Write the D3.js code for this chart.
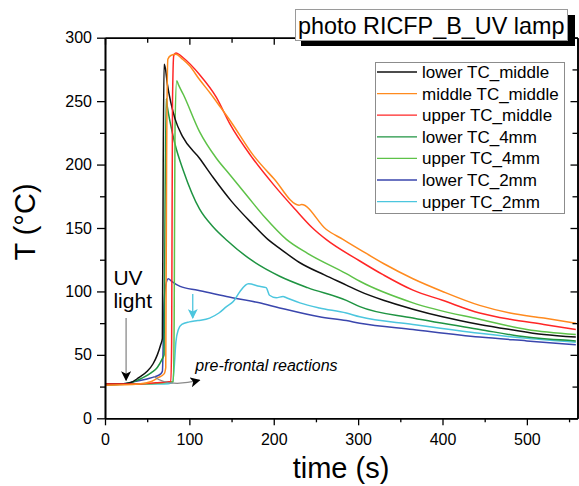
<!DOCTYPE html>
<html>
<head>
<meta charset="utf-8">
<script src="https://cdn.jsdelivr.net/npm/d3@7"></script>
<style>
  body { margin: 0; background: #fff; }
  svg { font-family: "Liberation Sans", Arial, sans-serif; }
</style>
</head>
<body>
<svg id="chart"></svg>
<script>
// values: [time (s), T (°C)]
let lowerMiddle = [[0,27],[20,27],[30,28],[40,32],[50,37],[57,43],[62,50],[66,58],[68,63],[69,200],[70,279],[71.5,276],[74,263],[78,249],[83,236],[92,222],[112,205],[128,190],[150,171],[175,153],[193,141],[207,134],[230,123],[260,113],[286,105],[302,100],[330,93],[365,86],[400,80],[444,74],[480,70],[520,66],[558,64]];
let middleMiddle = [[0,26],[40,27],[55,29],[63,32],[70,35],[72,40],[73,200],[74.5,283],[78,286],[84,287],[92,283],[100,278],[112,267],[125,256],[136,246],[150,233],[175,208],[200,189],[230,168],[233,168.5],[262,149],[282,141],[302,133],[330,122],[365,110],[400,100],[444,89],[480,83],[520,79],[558,75]];
let upperMiddle = [[0,27],[40,27],[60,28],[78,29],[79,60],[80,250],[81.5,286],[84,288],[93,284],[112,271],[132,253],[148,232],[175,205],[200,184],[225,165],[246,150],[262,141],[302,124],[330,113],[365,101],[400,93],[444,83],[480,78],[520,74],[558,70]];
let lower4mm = [[0,26],[30,28],[45,32],[55,36],[62,40],[68,47],[70,50],[71,150],[72.5,252],[74,245],[77,234],[83,216],[93,195],[112,165],[128,151],[145,140],[175,124],[207,112],[240,103],[286,93],[302,88],[365,79],[444,70],[500,64],[558,61]];
let upper4mm = [[0,27],[40,27],[70,28],[81,29],[82,80],[83,230],[85,266],[87,263],[93,255],[112,226],[132,205],[148,192],[170,174],[190,158],[215,141],[240,130],[286,114],[302,108],[365,91],[444,78],[500,70],[558,66]];
let lower2mm = [[0,27],[20,27],[35,29],[50,31],[60,33],[66,35],[68,37],[70,90],[72,105],[75,110],[79,108],[89,104],[110,101],[144,96],[183,91],[207,87],[254,80],[286,77],[302,75],[365,70],[444,64],[500,61],[558,58]];
let upper2mm = [[0,26],[40,27],[70,27],[80,28],[82,40],[84,60],[87,70],[91,74],[100,76],[110,77],[124,79],[135,83],[144,88],[152,92],[160,100],[170,106],[183,104],[191,103],[195,97],[203,95],[211,96],[215,95],[231,91],[254,87],[286,83],[302,80],[365,74],[444,67],[500,63],[558,60]];

let seriesNames = ["lower TC_middle", "middle TC_middle", "upper TC_middle", "lower TC_4mm", "upper TC_4mm", "lower TC_2mm", "upper TC_2mm"];
let seriesData = [lowerMiddle, middleMiddle, upperMiddle, lower4mm, upper4mm, lower2mm, upper2mm];
let seriesColors = ["#111111", "#ff8a1e", "#ff2626", "#1f9442", "#5ec248", "#3a46ad", "#4cc6de"];

let xMajor = [0, 100, 200, 300, 400, 500];
let xMinor = [50, 150, 250, 350, 450, 550];
let yMajor = [0, 50, 100, 150, 200, 250, 300];
let yMinor = [25, 75, 125, 175, 225, 275];

let width = 579, height = 486;
let svg = d3.select("#chart").attr("width", width).attr("height", height);

let x = d3.scaleLinear().domain([0, 560]).range([105, 577.5]);
let y = d3.scaleLinear().domain([0, 300]).range([418.3, 37.7]);

svg.append("clipPath").attr("id", "plot")
    .append("rect")
    .attr("x", x(0)).attr("y", y(300))
    .attr("width", x(560) - x(0)).attr("height", y(0) - y(300));

// lines
let line = d3.line()
    .x(d => x(d[0]))
    .y(d => y(d[1]))
    .curve(d3.curveMonotoneX);

let lines = svg.append("g").attr("clip-path", "url(#plot)");
// draw so that the overlaps look like the picture
[5, 6, 3, 4, 0, 2, 1].forEach(i => {
    lines.append("path")
        .attr("d", line(seriesData[i]))
        .attr("fill", "none")
        .attr("stroke", seriesColors[i])
        .attr("stroke-width", 1.5);
});

// axes
function styleAxis(g) {
    g.select(".domain").attr("stroke", "#000").attr("stroke-width", 1.6);
    g.selectAll(".tick line").attr("stroke", "#000").attr("stroke-width", 1.3);
    g.selectAll(".tick text").attr("fill", "#000").style("font-size", "16px");
}

svg.append("g").attr("transform", `translate(0,${y(0)})`)
    .call(d3.axisBottom(x).tickValues(xMinor).tickSize(4).tickSizeOuter(0).tickFormat(""))
    .call(styleAxis);
svg.append("g").attr("transform", `translate(0,${y(0)})`)
    .call(d3.axisBottom(x).tickValues(xMajor).tickSize(7).tickPadding(8).tickSizeOuter(0))
    .call(styleAxis);

svg.append("g").attr("transform", `translate(${x(0)},0)`)
    .call(d3.axisLeft(y).tickValues(yMinor).tickSize(5).tickSizeOuter(0).tickFormat(""))
    .call(styleAxis);
svg.append("g").attr("transform", `translate(${x(0)},0)`)
    .call(d3.axisLeft(y).tickValues(yMajor).tickSize(8).tickPadding(5).tickSizeOuter(0))
    .call(styleAxis);

svg.append("g").attr("transform", `translate(0,${y(300)})`)
    .call(d3.axisTop(x).tickValues(xMinor).tickSize(-5).tickSizeOuter(0).tickFormat(""))
    .call(styleAxis);
svg.append("g").attr("transform", `translate(0,${y(300)})`)
    .call(d3.axisTop(x).tickValues(xMajor).tickSize(-7).tickSizeOuter(0).tickFormat(""))
    .call(styleAxis);

svg.append("g").attr("transform", `translate(${x(560)},0)`)
    .call(d3.axisRight(y).tickValues(yMinor).tickSize(-5).tickSizeOuter(0).tickFormat(""))
    .call(styleAxis);
svg.append("g").attr("transform", `translate(${x(560)},0)`)
    .call(d3.axisRight(y).tickValues(yMajor).tickSize(-7).tickSizeOuter(0).tickFormat(""))
    .call(styleAxis);

// axis titles
svg.append("text")
    .attr("x", 341).attr("y", 478)
    .attr("text-anchor", "middle")
    .style("font-size", "29px")
    .text("time (s)");
svg.append("text")
    .attr("transform", "translate(35,222) rotate(-90)")
    .attr("text-anchor", "middle")
    .style("font-size", "29px")
    .text("T (°C)");

// arrow heads
let defs = svg.append("defs");
function marker(id, color) {
    defs.append("marker")
        .attr("id", id)
        .attr("viewBox", "0 0 10 10")
        .attr("refX", 9).attr("refY", 5)
        .attr("markerWidth", 10).attr("markerHeight", 10)
        .attr("markerUnits", "userSpaceOnUse")
        .attr("orient", "auto")
        .append("path")
        .attr("d", "M0,0 L10,5 L0,10 L2.5,5 Z")
        .attr("fill", color);
}
marker("headBlack", "#000");
marker("headCyan", "#4cc6de");

// UV light annotation
svg.append("text").attr("x", x(10)).attr("y", y(105))
    .style("font-size", "21px").text("UV");
svg.append("text").attr("x", x(10)).attr("y", y(87))
    .style("font-size", "21px").text("light");
svg.append("line")
    .attr("x1", x(25)).attr("y1", y(79))
    .attr("x2", x(25)).attr("y2", y(30))
    .attr("stroke", "#8a8a8a").attr("stroke-width", 1.3)
    .attr("marker-end", "url(#headBlack)");

// pre-frontal reactions
svg.append("path")
    .attr("d", `M${x(58)},${y(33)} Q${x(75)},${y(24)} ${x(112)},${y(30)}`)
    .attr("fill", "none")
    .attr("stroke", "#8a8a8a").attr("stroke-width", 1.3)
    .attr("marker-end", "url(#headBlack)");
svg.append("text").attr("x", x(107)).attr("y", y(37))
    .style("font-size", "16px").style("font-style", "italic")
    .text("pre-frontal reactions");

// cyan arrow
svg.append("line")
    .attr("x1", x(104)).attr("y1", y(98))
    .attr("x2", x(104)).attr("y2", y(79))
    .attr("stroke", "#4cc6de").attr("stroke-width", 1.3)
    .attr("marker-end", "url(#headCyan)");

// legend
let legend = svg.append("g");
legend.append("rect")
    .attr("x", 375.5).attr("y", 62.5)
    .attr("width", 189).attr("height", 151)
    .attr("fill", "#fff").attr("stroke", "#8c8c8c").attr("stroke-width", 1);
seriesNames.forEach((name, i) => {
    let ly = 72 + i * 21.6;
    legend.append("line")
        .attr("x1", 377).attr("x2", 417)
        .attr("y1", ly).attr("y2", ly)
        .attr("stroke", seriesColors[i]).attr("stroke-width", 1.3);
    legend.append("text")
        .attr("x", 422).attr("y", ly)
        .attr("dy", "0.35em")
        .style("font-size", "17px")
        .text(name);
});

// title box with shadow
svg.append("rect")
    .attr("x", 301).attr("y", 15)
    .attr("width", 274).attr("height", 31)
    .attr("fill", "#000");
svg.append("rect")
    .attr("x", 295.5).attr("y", 9.5)
    .attr("width", 272).attr("height", 31)
    .attr("fill", "#fff").attr("stroke", "#9a9a9a").attr("stroke-width", 1);
svg.append("text")
    .attr("x", 298).attr("y", 34)
    .style("font-size", "23.4px")
    .text("photo RICFP_B_UV lamp");
</script>
</body>
</html>
